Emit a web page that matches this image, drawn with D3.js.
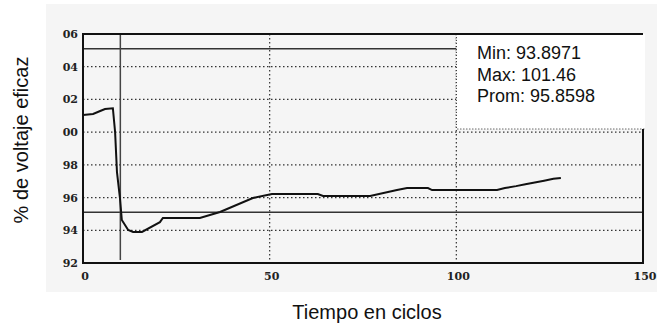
<!DOCTYPE html>
<html>
<head>
<meta charset="utf-8">
<script src="https://cdn.jsdelivr.net/npm/d3@7"></script>
<style>
  body { margin: 0; background: #fff; }
  svg { display: block; }
</style>
</head>
<body>
<script>
// ---- data ----
const cycles = [0, 2.7, 4.6, 5.9, 8.0, 8.6, 9.1, 9.9, 10.4, 12.1, 13.4, 15.8, 20.6, 21.4, 31.3, 36.7,
                45.5, 50.6, 62.9, 64.3, 76.9, 84.1, 86.8, 92.4, 93.5, 110.9, 113, 116, 118.5, 121, 123.5, 126, 128];
const voltage = [101.05, 101.11, 101.29, 101.41, 101.46, 100.0, 97.56, 95.97, 94.63, 94.02, 93.9, 93.9, 94.5, 94.75, 94.75, 95.12,
                 95.97, 96.22, 96.22, 96.1, 96.1, 96.46, 96.58, 96.58, 96.46, 96.46, 96.58, 96.7, 96.82, 96.92, 97.03, 97.15, 97.2];

const yTicks = [92, 94, 96, 98, 100, 102, 104, 106];
const yGrid = [94, 96, 98, 100, 102, 104];
const xTicks = [0, 50, 100, 150];
const xGrid = [50, 100];
const limits = [105.1, 95.1];
const cursorCycle = 10;
const stats = ["Min: 93.8971", "Max: 101.46", "Prom: 95.8598"];

const W = 657, H = 324;

const svg = d3.select("body").append("svg")
    .attr("width", W)
    .attr("height", H);

// scanned paper tint
svg.append("rect")
    .attr("x", 46).attr("y", 4)
    .attr("width", 611).attr("height", 288)
    .attr("fill", "#f5f5f5");

const x = d3.scaleLinear().domain([0, 150]).range([83, 643]);
const y = d3.scaleLinear().domain([92, 106]).range([263, 34]);

// dotted grid
svg.append("g").selectAll("line")
    .data(yGrid)
    .join("line")
    .attr("x1", x(0)).attr("x2", x(150))
    .attr("y1", d => y(d)).attr("y2", d => y(d))
    .attr("stroke", "#333")
    .attr("stroke-width", 1.2)
    .attr("stroke-dasharray", "1.5,2.5");

svg.append("g").selectAll("line")
    .data(xGrid)
    .join("line")
    .attr("x1", d => x(d)).attr("x2", d => x(d))
    .attr("y1", y(106)).attr("y2", y(92))
    .attr("stroke", "#333")
    .attr("stroke-width", 1.2)
    .attr("stroke-dasharray", "1.5,2.5");

// limit lines
svg.append("g").selectAll("line")
    .data(limits)
    .join("line")
    .attr("x1", x(0)).attr("x2", x(150))
    .attr("y1", d => y(d)).attr("y2", d => y(d))
    .attr("stroke", "#333")
    .attr("stroke-width", 1.5);

// cursor line
svg.append("line")
    .attr("x1", x(cursorCycle)).attr("x2", x(cursorCycle))
    .attr("y1", y(106)).attr("y2", y(92) - 3)
    .attr("stroke", "#444")
    .attr("stroke-width", 1.5);

// stats box
const box = svg.append("g");
box.append("rect")
    .attr("x", x(100)).attr("y", y(106))
    .attr("width", 645 - x(100)).attr("height", 129 - y(106))
    .attr("fill", "#fff");
box.append("path")
    .attr("d", `M${x(100)},${y(106)}V129H645`)
    .attr("fill", "none")
    .attr("stroke", "#222")
    .attr("stroke-width", 1)
    .attr("stroke-dasharray", "1,2");
box.selectAll("text")
    .data(stats)
    .join("text")
    .attr("x", 477)
    .attr("y", (d, i) => 59 + i * 21.5)
    .attr("font-family", "Liberation Sans, Arial, sans-serif")
    .attr("font-size", 18)
    .attr("fill", "#111")
    .text(d => d);

// frame
const frame = svg.append("g")
    .attr("fill", "none")
    .attr("stroke", "#111")
    .attr("stroke-width", 2);
frame.append("path")
    .attr("d", `M${x(150)},129V${y(92)}H${x(0)}V${y(106)}H${x(150)}`);

// data line
const line = d3.line()
    .x(d => x(d[0]))
    .y(d => y(d[1]));

svg.append("path")
    .datum(cycles.map((c, i) => [c, voltage[i]]))
    .attr("d", line)
    .attr("fill", "none")
    .attr("stroke", "#111")
    .attr("stroke-width", 2);

// tick labels
const tickFont = "DejaVu Serif, serif";
svg.append("g").selectAll("text")
    .data(yTicks)
    .join("text")
    .attr("x", 78)
    .attr("y", d => y(d) + 4)
    .attr("text-anchor", "end")
    .attr("font-family", tickFont)
    .attr("font-weight", "bold")
    .attr("font-size", 11)
    .attr("fill", "#222")
    .text(d => d3.format("02d")(d % 100));

svg.append("g").selectAll("text")
    .data(xTicks)
    .join("text")
    .attr("x", d => x(d) + 2)
    .attr("y", 280)
    .attr("text-anchor", "middle")
    .attr("font-family", tickFont)
    .attr("font-weight", "bold")
    .attr("font-size", 11)
    .attr("fill", "#222")
    .text(d => d);

// axis titles
svg.append("text")
    .attr("transform", "translate(28,140) rotate(-90)")
    .attr("text-anchor", "middle")
    .attr("font-family", "Liberation Sans, Arial, sans-serif")
    .attr("font-size", 20)
    .attr("fill", "#111")
    .text("% de voltaje eficaz");

svg.append("text")
    .attr("x", 367)
    .attr("y", 319)
    .attr("text-anchor", "middle")
    .attr("font-family", "Liberation Sans, Arial, sans-serif")
    .attr("font-size", 20)
    .attr("fill", "#111")
    .text("Tiempo en ciclos");
</script>
</body>
</html>
